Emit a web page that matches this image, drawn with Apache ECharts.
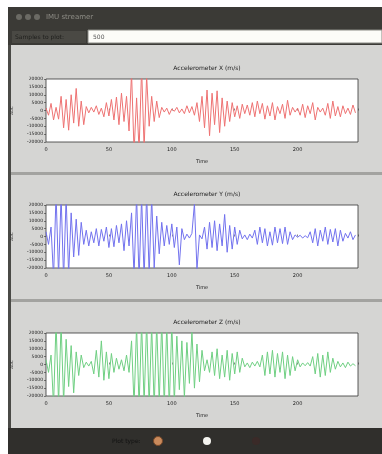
<!DOCTYPE html>
<html><head><meta charset="utf-8">
<script src="https://cdn.jsdelivr.net/npm/echarts@6/dist/echarts.min.js"></script>
<style>html,body{margin:0;padding:0;background:#fff}#c{width:382px;height:454px}</style>
</head><body><div id="c"></div>
<script>
const panelTitles = ['Accelerometer X (m/s)', 'Accelerometer Y (m/s)', 'Accelerometer Z (m/s)'];
const xTickLabels = ['0', '50', '100', '150', '200'];
const yTickLabels = ['-20000', '-15000', '-10000', '-5000', '0', '5000', '10000', '15000', '20000'];
const sampleStep = 2;
const accelX = [1500,-3000,4500,-6000,2000,-5500,
  9000,-11000,7000,-12500,10000,-8000,14000,-10000,6000,-9000,
  2500,-1500,2000,-1000,3000,-2500,
  1500,-4000,5000,-3500,7000,-6000,8500,-9000,11000,-7000,9000,-13000,
  24000,-26000,8000,-25000,27000,-24000,22000,
  -10000,9000,-7000,6000,-4500,
  2000,-1000,1500,-2500,1000,-500,2000,-1500,1000,-2000,3000,-1500,2500,-3000,
  5000,-7000,9000,-11000,13000,-16000,11000,-9000,12500,-14000,8000,-10000,6000,-7000,5000,
  -4000,3000,-5000,4000,-2000,3500,-3000,
  5000,-4000,6000,-2000,4500,-5500,3000,-3500,5000,-6000,
  2500,-2000,4000,-5000,6500,-3000,2000,-1000,1500,-3000,
  4000,-4500,3000,-2000,5000,-6000,2000,-1000,1500,-3000,
  4500,-5000,6000,-3500,2500,-4000,3000,-2000,1500,-2500,3500,-1500];
const accelY = [3000,-5000,6000,
  -26000,27000,-25000,26000,-27000,25000,-24000,
  15000,-13000,11000,-12000,9000,
  -5000,4000,-6000,3000,-4000,5000,-6000,4500,-3000,6000,-7000,5000,-6500,7000,-4000,8000,-9000,10000,-6000,
  15000,
  -25000,26000,-27000,25000,-26000,27000,-24000,25000,-20000,
  13000,-11000,9000,
  -6000,7000,-5000,8000,-7000,6000,-18000,5000,
  -2000,1500,-1000,2000,
  21000,-21000,
  1000,-1500,
  6000,-8000,9000,-7000,10000,-9000,8000,-6000,14000,-10000,7000,-8000,6000,-5000,4000,
  -1500,1000,-2000,1500,-1000,
  4000,-5000,6000,-4000,5000,-6000,3000,-5500,6000,-4000,5000,-4500,6000,-5000,3000,-2000,
  1000,-500,800,-1000,500,-800,
  3000,-4000,5000,-6000,4000,-3000,6000,-5000,4500,-3500,5000,-6000,4000,-3000,2000,-1000,3000,-2000,1000];
const accelZ = [3000,-5000,6000,
  -26000,27000,-25000,26000,-24000,
  16000,-14000,12000,-18000,
  8000,-7000,6000,
  -2000,1500,-1000,2000,
  -6000,9000,-8000,15000,-10000,8000,-9000,7000,-5000,
  4000,-3000,3000,-4000,
  6000,-5000,15000,
  -26000,25000,-27000,26000,-25000,27000,-26000,25000,-27000,26000,-24000,27000,-26000,25000,-27000,26000,-24000,
  18000,-16000,15000,-21000,14000,-12000,21000,-15000,13000,-11000,9000,
  -4000,3000,-5000,
  8000,-7000,10000,-9000,6000,-8000,9000,-10000,7000,-6000,8000,-5000,4000,
  -1500,1000,-2000,1500,-1000,2000,-1500,
  6000,-7000,8000,-6000,9000,-8000,7000,-5000,8000,-9000,6000,-7000,5000,-4000,3000,
  -1500,1000,-800,1200,-1000,
  5000,-6000,7000,-8000,6000,-7000,8000,-5000,4000,-3000,
  2000,-1500,1000,-2000,1500,-1000,500,-800];
const seriesData = [accelX, accelY, accelZ];
const lineColors = ['#ee7272', '#7272ee', '#6fcf82'];

const gridTops = [79, 205, 333];
const gridH = 63;
const gridLeft = 46, gridW = 312;

const chart = echarts.init(document.getElementById('c'), null, {renderer: 'canvas'});
const grids = [], xAxes = [], yAxes = [], series = [], titles = [];
const xMin = 0, xMax = 248;
const yMin = -20000, yMax = 20000;
seriesData.forEach((arr, k) => {
  grids.push({left: gridLeft, top: gridTops[k], width: gridW, height: gridH, show: true,
    backgroundColor: '#ffffff', borderColor: '#333', borderWidth: 0.8});
  xAxes.push({type: 'value', gridIndex: k, min: xMin, max: xMax, interval: 50,
    name: 'Time', nameLocation: 'middle', nameGap: 17,
    nameTextStyle: {fontSize: 5, color: '#222', fontFamily: 'DejaVu Sans'},
    axisLine: {show: false}, splitLine: {show: false},
    axisTick: {show: true, inside: true, length: 2, lineStyle: {color: '#333', width: 0.6}},
    axisLabel: {fontSize: 5, color: '#222', margin: 5, fontFamily: 'DejaVu Sans',
      formatter: v => xTickLabels.includes(String(v)) ? String(v) : ''}});
  yAxes.push({type: 'value', gridIndex: k, min: yMin, max: yMax, interval: 5000,
    name: 'ADC', nameLocation: 'middle', nameGap: 32, nameRotate: 90,
    nameTextStyle: {fontSize: 4, color: '#222', fontFamily: 'DejaVu Sans'},
    axisLine: {show: false}, splitLine: {show: false},
    axisTick: {show: true, inside: false, length: 2, lineStyle: {color: '#333', width: 0.6}},
    axisLabel: {fontSize: 4.5, color: '#222', margin: 3, fontFamily: 'DejaVu Sans',
      formatter: v => yTickLabels.includes(String(v)) ? String(v) : ''}});
  series.push({type: 'line', xAxisIndex: k, yAxisIndex: k, showSymbol: false, symbol: 'none',
    clip: true, animation: false,
    lineStyle: {color: lineColors[k], width: 1},
    data: arr.map((v, i) => [i * sampleStep, v])});
  titles.push({text: panelTitles[k], left: gridLeft + gridW / 2, textAlign: 'center',
    top: gridTops[k] - 19,
    textStyle: {fontSize: 6, fontWeight: 'normal', color: '#222', fontFamily: 'DejaVu Sans'}});
});

const graphic = [
  {type: 'rect', shape: {x: 8, y: 7, width: 374, height: 38}, style: {fill: '#3b3a36'}, z: -10},
  {type: 'circle', shape: {cx: 19, cy: 17, r: 3}, style: {fill: '#6b6a64'}, z: -9},
  {type: 'circle', shape: {cx: 28, cy: 17, r: 3}, style: {fill: '#6b6a64'}, z: -9},
  {type: 'circle', shape: {cx: 37, cy: 17, r: 3}, style: {fill: '#6b6a64'}, z: -9},
  {type: 'text', style: {x: 46, y: 17, text: 'IMU streamer', fill: '#8e8d86', fontSize: 7, verticalAlign: 'middle', fontFamily: 'DejaVu Sans'}, z: -9},
  {type: 'rect', shape: {x: 12, y: 31, width: 74, height: 12}, style: {fill: '#4a4944'}, z: -9},
  {type: 'text', style: {x: 15, y: 37, text: 'Samples to plot:', fill: '#1e1e1c', fontSize: 6, verticalAlign: 'middle', fontFamily: 'DejaVu Sans'}, z: -8},
  {type: 'rect', shape: {x: 88, y: 30, width: 294, height: 13}, style: {fill: '#fcfcf8', stroke: '#8a8a84', lineWidth: 1}, z: -9},
  {type: 'text', style: {x: 93, y: 37, text: '500', fill: '#555', fontSize: 6, verticalAlign: 'middle', fontFamily: 'DejaVu Sans'}, z: -8},
  {type: 'rect', shape: {x: 8, y: 45, width: 374, height: 383}, style: {fill: '#d5d5d3'}, z: -10},
  {type: 'rect', shape: {x: 8, y: 45, width: 3, height: 383}, style: {fill: '#4a4a46'}, z: -9},
  {type: 'rect', shape: {x: 11, y: 172, width: 371, height: 3}, style: {fill: '#a3a3a0'}, z: -9},
  {type: 'rect', shape: {x: 11, y: 299, width: 371, height: 3}, style: {fill: '#a3a3a0'}, z: -9},
  {type: 'rect', shape: {x: 8, y: 428, width: 374, height: 26}, style: {fill: '#302f2c'}, z: -10},
  {type: 'text', style: {x: 112, y: 441, text: 'Plot type:', fill: '#111', fontSize: 6, verticalAlign: 'middle', fontFamily: 'DejaVu Sans'}, z: -8},
  {type: 'circle', shape: {cx: 158, cy: 441, r: 4.5}, style: {fill: '#c98a5c', stroke: '#7a4a2a', lineWidth: 1}, z: -8},
  {type: 'circle', shape: {cx: 207, cy: 441, r: 4}, style: {fill: '#f4f4f0'}, z: -8},
  {type: 'circle', shape: {cx: 256, cy: 441, r: 4}, style: {fill: '#3a2a28'}, z: -8}
];

chart.setOption({
  animation: false,
  backgroundColor: '#ffffff',
  title: titles,
  grid: grids, xAxis: xAxes, yAxis: yAxes, series: series,
  graphic: graphic
});
</script></body></html>
